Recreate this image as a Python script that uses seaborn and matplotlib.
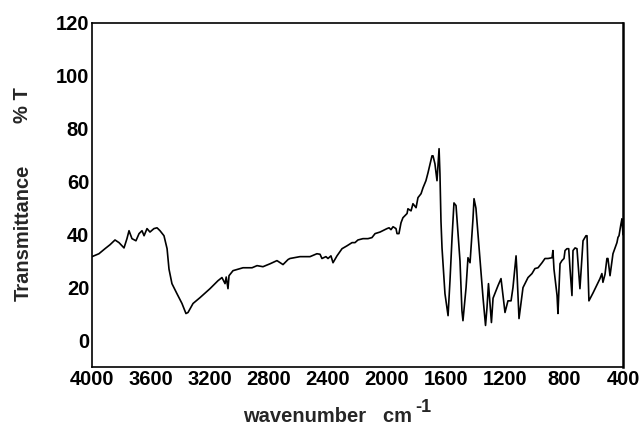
import matplotlib
matplotlib.use("Agg")
import matplotlib.pyplot as plt
import seaborn as sns
import pandas as pd

# FT-IR spectrum: wavenumber (cm^-1) and transmittance (%)
wavenumber = [
    4000, 3953, 3912, 3878, 3844, 3817, 3783, 3763, 3749, 3729,
    3702, 3681, 3661, 3647, 3627, 3607, 3580, 3559, 3539, 3512,
    3491, 3478, 3458, 3424, 3390, 3363, 3349, 3315, 3268, 3200,
    3146, 3119, 3098, 3090, 3078, 3071, 3044, 2976, 2915, 2881,
    2841, 2793, 2746, 2705, 2671, 2658, 2590, 2522, 2475, 2454,
    2441, 2414, 2400, 2380, 2366, 2339, 2305, 2271, 2237, 2217,
    2197, 2163, 2129, 2102, 2081, 2047, 2000, 1986, 1973, 1959,
    1939, 1932, 1919, 1905, 1892, 1864, 1858, 1837, 1824, 1803,
    1790, 1769, 1756, 1736, 1722, 1695, 1688, 1675, 1661, 1647,
    1641, 1634, 1627, 1607, 1586, 1573, 1559, 1546, 1532, 1505,
    1492, 1485, 1464, 1451, 1437, 1417, 1410, 1397, 1376, 1349,
    1332, 1322, 1312, 1292, 1281, 1247, 1227, 1200, 1180, 1159,
    1146, 1125, 1119, 1105, 1078, 1044, 1017, 997, 976, 949,
    929, 908, 881, 875, 868, 847, 841, 827, 814, 800,
    793, 780, 768, 759, 746, 739, 725, 712, 692, 671,
    651, 644, 631, 603, 556, 543, 536, 522, 509, 502,
    488, 468, 441, 434, 427, 414, 407, 400,
]
transmittance = [
    31.7, 32.8, 34.7, 36.2, 38.0, 37.0, 35.0, 38.5, 41.5, 38.5,
    37.7, 40.4, 41.5, 39.6, 42.3, 41.0, 42.3, 42.6, 41.5, 39.6,
    34.7, 27.0, 21.5, 17.7, 14.0, 10.2, 10.6, 14.0, 16.2, 19.6,
    22.6, 23.8, 21.5, 24.0, 19.6, 24.5, 26.4, 27.5, 27.5, 28.3,
    27.9, 29.0, 30.2, 28.7, 30.6, 31.0, 31.7, 31.7, 32.8, 32.6,
    31.0, 31.7, 31.0, 32.0, 29.4, 32.0, 34.7, 35.8, 37.0, 37.0,
    38.0, 38.5, 38.5, 38.9, 40.4, 41.0, 42.3, 42.6, 41.9, 43.0,
    42.3, 40.4, 40.4, 44.5, 46.4, 48.0, 49.8, 49.0, 51.7, 50.2,
    54.0, 55.5, 57.7, 60.4, 63.4, 69.8, 69.8, 66.8, 60.4, 72.5,
    63.0, 45.0, 35.0, 17.7, 9.4, 22.6, 38.9, 52.0, 51.0, 30.0,
    11.3, 7.5, 20.0, 31.3, 29.4, 46.0, 53.6, 50.0, 35.0, 16.2,
    5.7, 12.5, 21.5, 6.8, 16.0, 20.8, 23.4, 10.6, 15.0, 15.0,
    20.0, 32.0, 26.0, 8.3, 20.0, 23.8, 25.3, 27.2, 27.5, 29.4,
    31.0, 31.0, 31.3, 34.0, 27.0, 17.0, 10.2, 29.0, 30.2, 31.0,
    34.0, 34.7, 34.7, 27.0, 17.0, 34.0, 35.0, 34.7, 19.6, 37.7,
    39.6, 39.6, 15.0, 18.0, 23.4, 25.3, 22.0, 25.0, 31.0, 31.0,
    24.5, 32.8, 37.0, 39.0, 39.6, 44.0, 46.0, 40.0,
]

x_ticks = [4000, 3600, 3200, 2800, 2400, 2000, 1600, 1200, 800, 400]
y_ticks = [0, 20, 40, 60, 80, 100, 120]

sns.set_theme(style="white")
plt.rcParams["font.family"] = ["Liberation Sans", "DejaVu Sans"]
plt.rcParams["font.weight"] = "bold"

df = pd.DataFrame({"wavenumber": wavenumber, "transmittance": transmittance})

fig = plt.figure(figsize=(6.42, 4.25), dpi=100)
ax = fig.add_axes([0.1433, 0.1365, 0.8271, 0.8094])

sns.lineplot(data=df, x="wavenumber", y="transmittance", ax=ax,
             sort=False, estimator=None, color="black", linewidth=1.2)

ax.set_xlim(4000, 400)
ax.set_ylim(-10, 120)
ax.set_xticks(x_ticks)
ax.set_xticklabels([str(v) for v in x_ticks])
ax.set_yticks(y_ticks)
ax.set_yticklabels([str(v) for v in y_ticks])
ax.tick_params(axis="both", length=0, pad=2, labelsize=14.5, colors="black")
for lbl in ax.get_xticklabels() + ax.get_yticklabels():
    lbl.set_fontweight("bold")
ax.set_xlabel("")
ax.set_ylabel("")
for side in ["left", "right", "top", "bottom"]:
    ax.spines[side].set_visible(True)
    ax.spines[side].set_color("black")
    ax.spines[side].set_linewidth(1.2)
ax.spines["right"].set_linewidth(1.8)

# axis titles
fig.text(23 / 642, 1 - 233 / 425, "Transmittance", rotation=90,
         ha="center", va="center", fontsize=14.5, fontweight="bold")
fig.text(23 / 642, 1 - 105 / 425, "% T", rotation=90,
         ha="center", va="center", fontsize=14.5, fontweight="bold")
fig.text(243 / 642, 1 - 422 / 425, "wavenumber   cm", ha="left",
         va="baseline", fontsize=14.5, fontweight="bold")
fig.text(415 / 642, 1 - 412 / 425, "-1", ha="left", va="baseline",
         fontsize=13, fontweight="bold")

fig.savefig("out.png", dpi=100)
